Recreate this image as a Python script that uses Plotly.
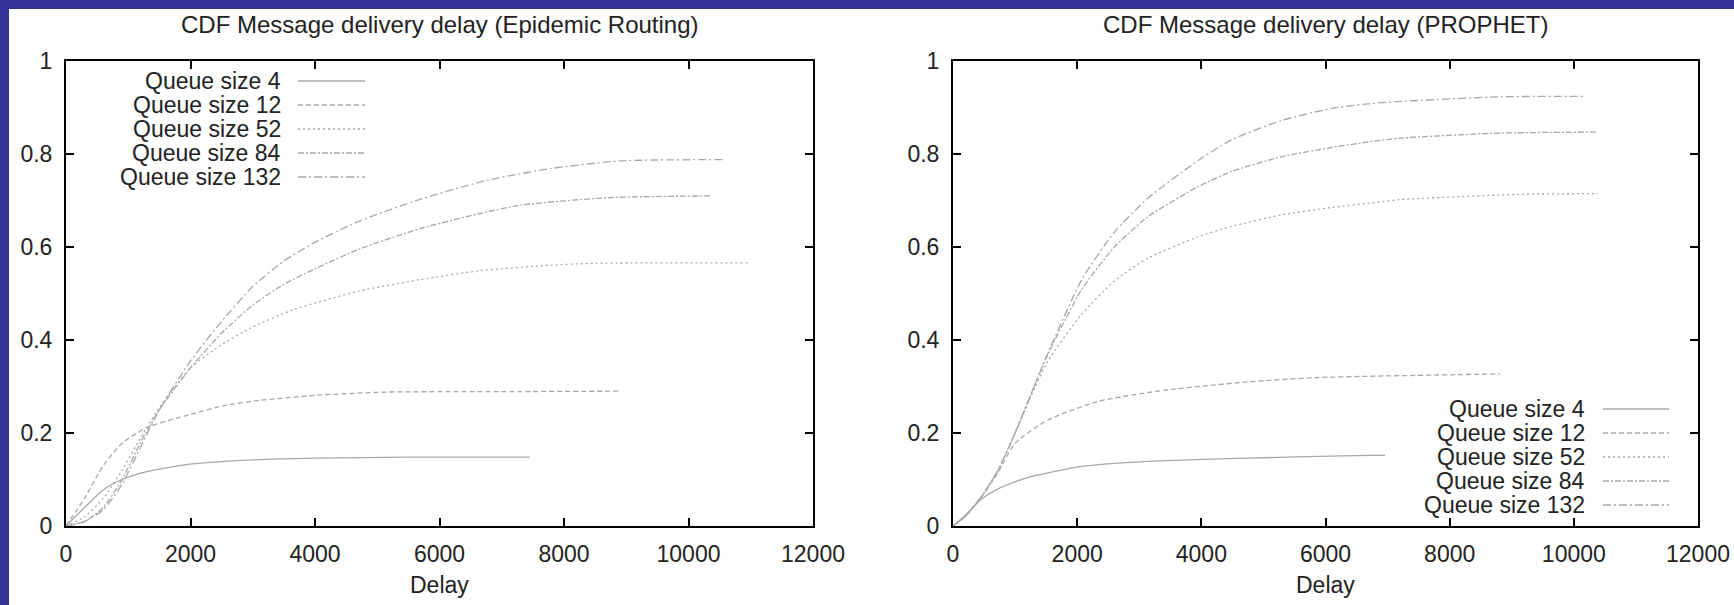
import plotly.graph_objects as go

W, H = 1734, 605

# ---------------- data ----------------
series_names = ["Queue size 4", "Queue size 12", "Queue size 52", "Queue size 84", "Queue size 132"]

# Epidemic Routing
epi_x4 = [0, 300, 600, 900, 1300, 2000, 3000, 4000, 5500, 7450]
epi_y4 = [0, 0.04, 0.078, 0.1, 0.117, 0.133, 0.142, 0.146, 0.148, 0.148]
epi_x12 = [0, 300, 600, 900, 1300, 2000, 2500, 3100, 4000, 5150, 7000, 8920]
epi_y12 = [0, 0.06, 0.13, 0.178, 0.212, 0.24, 0.258, 0.27, 0.281, 0.288, 0.289, 0.29]
epi_x52 = [0, 300, 600, 900, 1200, 1500, 2000, 2500, 3000, 3650, 4700, 5700, 6650, 7800, 8500, 10960]
epi_y52 = [0, 0.02, 0.06, 0.12, 0.19, 0.255, 0.34, 0.39, 0.428, 0.465, 0.505, 0.53, 0.549, 0.561, 0.565, 0.566]
epi_x84 = [0, 300, 600, 900, 1200, 1500, 2000, 2500, 3000, 3500, 4000, 4700, 5700, 6650, 7300, 8700, 10370]
epi_y84 = [0, 0.01, 0.04, 0.1, 0.18, 0.25, 0.34, 0.415, 0.475, 0.52, 0.553, 0.595, 0.64, 0.672, 0.69, 0.706, 0.71]
epi_x132 = [0, 300, 600, 900, 1200, 1500, 2000, 2500, 3000, 3500, 4000, 4700, 5700, 6750, 7800, 8900, 10550]
epi_y132 = [0, 0.01, 0.035, 0.09, 0.17, 0.25, 0.355, 0.44, 0.515, 0.57, 0.61, 0.655, 0.703, 0.743, 0.769, 0.785, 0.788]

# PROPHET
pro_x4 = [0, 190, 460, 725, 1000, 1260, 2070, 3140, 4750, 6690, 6960]
pro_y4 = [0, 0.022, 0.058, 0.08, 0.095, 0.106, 0.128, 0.139, 0.146, 0.152, 0.152]
pro_x12 = [0, 190, 460, 725, 1000, 1530, 2340, 3410, 4750, 5830, 6690, 8810]
pro_y12 = [0, 0.02, 0.063, 0.115, 0.178, 0.228, 0.268, 0.292, 0.31, 0.319, 0.322, 0.327]
pro_x52 = [0, 190, 460, 725, 1000, 1260, 1530, 2070, 2600, 3140, 3950, 4480, 5290, 6100, 6690, 7200, 9080, 10390]
pro_y52 = [0, 0.02, 0.063, 0.12, 0.2, 0.28, 0.355, 0.455, 0.527, 0.576, 0.622, 0.644, 0.669, 0.685, 0.694, 0.702, 0.713, 0.715]
pro_x84 = [0, 190, 460, 725, 1000, 1260, 1530, 2070, 2600, 3140, 3950, 4480, 5290, 6100, 6690, 7200, 8810, 10390]
pro_y84 = [0, 0.02, 0.063, 0.12, 0.2, 0.285, 0.37, 0.508, 0.6, 0.665, 0.73, 0.762, 0.794, 0.814, 0.826, 0.834, 0.845, 0.847]
pro_x132 = [0, 190, 460, 725, 1000, 1260, 1530, 2070, 2600, 3140, 3950, 4480, 5290, 6100, 6690, 7200, 8810, 10180]
pro_y132 = [0, 0.02, 0.063, 0.12, 0.2, 0.285, 0.372, 0.529, 0.632, 0.705, 0.786, 0.83, 0.872, 0.898, 0.908, 0.913, 0.923, 0.924]

x_ticks = [0, 2000, 4000, 6000, 8000, 10000, 12000]
y_ticks = [0, 0.2, 0.4, 0.6, 0.8, 1]

titles = ["CDF Message delivery delay (Epidemic Routing)", "CDF Message delivery delay (PROPHET)"]
x_title = "Delay"

# ---------------- styling ----------------
FONT = "Liberation Sans, Arial, Helvetica, sans-serif"
LINE_COLOR = "#a8a8a8"
DASHES = ["solid", "5px,3px", "2px,3px", "6px,2px,2px,2px", "8px,3px,2px,3px"]
BLUE = "#333399"

def px_x(p):
    return p / W

def px_y(p):
    return 1 - p / H

fig = go.Figure()

epi = [(epi_x4, epi_y4), (epi_x12, epi_y12), (epi_x52, epi_y52), (epi_x84, epi_y84), (epi_x132, epi_y132)]
pro = [(pro_x4, pro_y4), (pro_x12, pro_y12), (pro_x52, pro_y52), (pro_x84, pro_y84), (pro_x132, pro_y132)]

for panel, (data, xa, ya) in enumerate([(epi, "x", "y"), (pro, "x2", "y2")]):
    for i, (xs, ys) in enumerate(data):
        fig.add_trace(go.Scatter(
            x=xs, y=ys, mode="lines", name=series_names[i],
            line=dict(color=LINE_COLOR, width=1.3, dash=DASHES[i], shape="spline", smoothing=0.6),
            xaxis=xa, yaxis=ya, showlegend=False, hoverinfo="skip"))

axis_common = dict(
    showline=True, linewidth=2, linecolor="black", mirror="allticks",
    ticks="inside", ticklen=8, tickwidth=2, tickcolor="black",
    showgrid=False, zeroline=False,
    tickfont=dict(family=FONT, size=23, color="#222"),
)

plot_boxes = [(66, 813), (953, 1698)]
y_top, y_bot = 61, 526

layout_axes = {}
for k, (l, r) in enumerate(plot_boxes):
    sx = "" if k == 0 else str(k + 1)
    layout_axes["xaxis" + sx] = dict(
        axis_common, domain=[px_x(l), px_x(r)], range=[0, 12000],
        tickvals=x_ticks, ticktext=[str(v) for v in x_ticks],
        anchor="y" + sx, ticklabelstandoff=6)
    layout_axes["yaxis" + sx] = dict(
        axis_common, domain=[px_y(y_bot), px_y(y_top)], range=[0, 1],
        tickvals=y_ticks, ticktext=[("%g" % v) for v in y_ticks],
        anchor="x" + sx, ticklabelstandoff=7)

annotations = []
shapes = []

# blue frame bands
shapes.append(dict(type="rect", xref="paper", yref="paper", x0=0, x1=px_x(9), y0=0, y1=1,
                   fillcolor=BLUE, line=dict(width=0), layer="below"))
shapes.append(dict(type="rect", xref="paper", yref="paper", x0=0, x1=1, y0=px_y(9), y1=1,
                   fillcolor=BLUE, line=dict(width=0), layer="below"))

for k, (l, r) in enumerate(plot_boxes):
    cx = (l + r) / 2
    annotations.append(dict(text=titles[k], xref="paper", yref="paper", x=px_x(cx), y=px_y(25),
                            xanchor="center", yanchor="middle", showarrow=False,
                            font=dict(family=FONT, size=24, color="#222")))
    annotations.append(dict(text=x_title, xref="paper", yref="paper", x=px_x(cx), y=px_y(585),
                            xanchor="center", yanchor="middle", showarrow=False,
                            font=dict(family=FONT, size=23, color="#222")))

# manual key (gnuplot style: text right-aligned, sample to the right)
legend_specs = [
    (283, 298, 365, [81, 105, 129, 153, 177]),
    (1587, 1603, 1669, [409, 433, 457, 481, 505]),
]
for (tx, lx0, lx1, rows) in legend_specs:
    for i, yy in enumerate(rows):
        annotations.append(dict(text=series_names[i], xref="paper", yref="paper", x=px_x(tx), y=px_y(yy),
                                xanchor="right", yanchor="middle", showarrow=False,
                                font=dict(family=FONT, size=23, color="#222")))
        shapes.append(dict(type="line", xref="paper", yref="paper", x0=px_x(lx0), x1=px_x(lx1),
                           y0=px_y(yy), y1=px_y(yy),
                           line=dict(color=LINE_COLOR, width=1.3, dash=DASHES[i])))

fig.update_layout(
    width=W, height=H,
    margin=dict(l=0, r=0, t=0, b=0, autoexpand=False),
    paper_bgcolor="white", plot_bgcolor="white",
    annotations=annotations, shapes=shapes,
    showlegend=False,
    **layout_axes,
)

fig.write_html("out.html", config={"displayModeBar": False},
               post_script="document.body.style.margin='0px';document.body.style.overflow='hidden';")
